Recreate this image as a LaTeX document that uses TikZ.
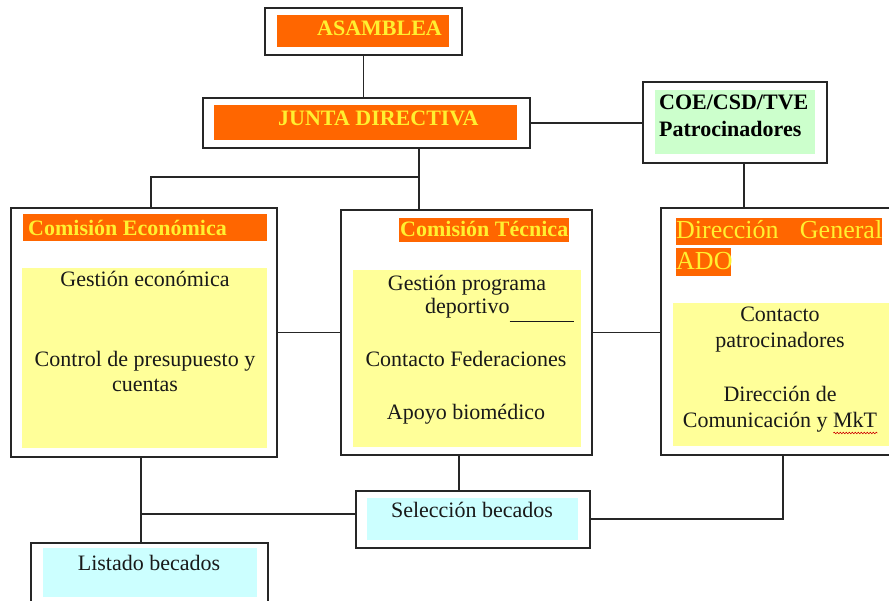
\documentclass[tikz,border=0pt]{standalone}
\usepackage{fontspec}
\setmainfont{Liberation Serif}
\usetikzlibrary{decorations.pathmorphing}
\definecolor{orng}{HTML}{FF6600}
\definecolor{ytxt}{HTML}{FFF030}
\definecolor{lyel}{HTML}{FFFF99}
\definecolor{lgrn}{HTML}{CCFFCC}
\definecolor{lcyn}{HTML}{CCFFFF}
\begin{document}
\begin{tikzpicture}[x=1pt,y=-1pt,
  frame/.style={draw=black!85,line width=1.2pt,fill=white,inner sep=0pt},
  patch/.style={inner sep=0pt,draw=none},
  hdr/.style={font=\fontsize{22}{26}\selectfont\bfseries,text=ytxt,inner sep=0pt},
  dhdr/.style={font=\fontsize{26}{30}\selectfont,text=ytxt,inner sep=0pt},
  body/.style={font=\fontsize{22}{26}\selectfont,text=black!90,inner sep=0pt},
  wire/.style={draw=black!85,line width=1.2pt}]
\useasboundingbox (0,0) rectangle (889,601);
\fill[white] (0,0) rectangle (889,601);
% frames
\node[frame,minimum width=197,minimum height=47] (asam) at (363.5,31.5) {};
\node[frame,minimum width=327,minimum height=50] (junta) at (366.5,123) {};
\node[frame,minimum width=184,minimum height=81] (coe) at (735,122.5) {};
\node[frame,minimum width=266,minimum height=249] (eco) at (144,332.5) {};
\node[frame,minimum width=251,minimum height=245] (tec) at (466.5,332.5) {};
\node[frame,minimum width=231,minimum height=247] (dir) at (776.5,331.5) {};
\node[frame,minimum width=234,minimum height=57] (sel) at (473,519.5) {};
\node[frame,minimum width=237,minimum height=69] (list) at (149.5,577.5) {};
% coloured patches
\node[patch,fill=orng,minimum width=172,minimum height=32] (asamp) at (363,31) {};
\node[patch,fill=orng,minimum width=303,minimum height=35] (juntap) at (365.5,122.5) {};
\node[patch,fill=lgrn,minimum width=160,minimum height=64] (coep) at (735,122) {};
\node[patch,fill=orng,minimum width=244,minimum height=27] (ecoh) at (145,227.5) {};
\node[patch,fill=lyel,minimum width=245,minimum height=180] (ecop) at (144.5,358) {};
\node[patch,fill=orng,minimum width=170,minimum height=24] (tech) at (484,230) {};
\node[patch,fill=lyel,minimum width=228,minimum height=177] (tecp) at (467,358.5) {};
\node[patch,fill=orng,minimum width=206,minimum height=27] (dirh1) at (779,231.5) {};
\node[patch,fill=orng,minimum width=55,minimum height=28] (dirh2) at (703.5,262) {};
\node[patch,fill=lyel,minimum width=219,minimum height=143] (dirp) at (782.5,374.5) {};
\node[patch,fill=lcyn,minimum width=211,minimum height=42] (selp) at (472.5,519) {};
\node[patch,fill=lcyn,minimum width=214,minimum height=49] (listp) at (150,572.5) {};
% texts
\node[hdr,anchor=base west] (asamt) at (317,36) {ASAMBLEA};
\node[hdr,anchor=base west] (juntat) at (278,126) {JUNTA DIRECTIVA};
\node[hdr,text=black,anchor=base west] (coet1) at (659,110) {COE/CSD/TVE};
\node[hdr,text=black,anchor=base west] (coet2) at (659,137) {Patrocinadores};
\node[hdr,anchor=base west] (ecot) at (28,236) {Comisión Económica};
\node[hdr,anchor=base west] (tect) at (400,237) {Comisión Técnica};
\node[dhdr,anchor=base west] (dirt1) at (676,239) {\makebox[206pt]{Dirección\hfill General}};
\node[dhdr,anchor=base west] (dirt2) at (676,270) {ADO};
\node[body,anchor=base] (eco1) at (145,287) {Gestión económica};
\node[body,anchor=base] (eco2) at (145,367) {Control de presupuesto y};
\node[body,anchor=base] (eco3) at (145,392) {cuentas};
\node[body,anchor=base] (tec1) at (467,291) {Gestión programa};
\node[body,anchor=base west] (tec2) at (425,314) {deportivo\rule[-8pt]{64pt}{1pt}};
\node[body,anchor=base] (tec3) at (466,367) {Contacto Federaciones};
\node[body,anchor=base] (tec4) at (466,420) {Apoyo biomédico};
\node[body,anchor=base] (dir1) at (780,322) {Contacto};
\node[body,anchor=base] (dir2) at (780,348) {patrocinadores};
\node[body,anchor=base] (dir3) at (780,402) {Dirección de};
\node[body,anchor=base] (dir4) at (780,428) {Comunicación y MkT};
\node[body,anchor=base] (selt) at (472,517) {Selección becados};
\node[body,anchor=base] (listt) at (149,570) {Listado becados};
\draw[red!80!black,line width=0.6pt,decorate,decoration={snake,amplitude=0.8pt,segment length=3pt}] (dir4.base east) ++(-44,5) -- ++(44,0);
% connectors
\coordinate (hj) at (419,177);
\coordinate (he) at (151,177);
\coordinate (cd) at (744,180);
\coordinate (ls) at (141,514);
\coordinate (ts) at (459,470);
\coordinate (sd) at (783,519);
\draw[wire] (asam.south) -- (asam.south |- junta.north);
\draw[wire] (junta.south -| hj) -- (hj) -- (tec.north -| hj);
\draw[wire] (hj) -- (he) -- (eco.north -| he);
\draw[wire] (junta.east) -- (coe.west |- junta.east);
\draw[wire] (coe.south -| cd) -- (dir.north -| cd);
\draw[wire] (eco.east) -- (tec.west |- eco.east);
\draw[wire] (tec.east) -- (dir.west |- tec.east);
\draw[wire] (eco.south -| ls) -- (list.north -| ls);
\draw[wire] (ls) -- (sel.west |- ls);
\draw[wire] (tec.south -| ts) -- (sel.north -| ts);
\draw[wire] (sel.east |- sd) -- (sd) -- (dir.south -| sd);
\end{tikzpicture}
\end{document}
